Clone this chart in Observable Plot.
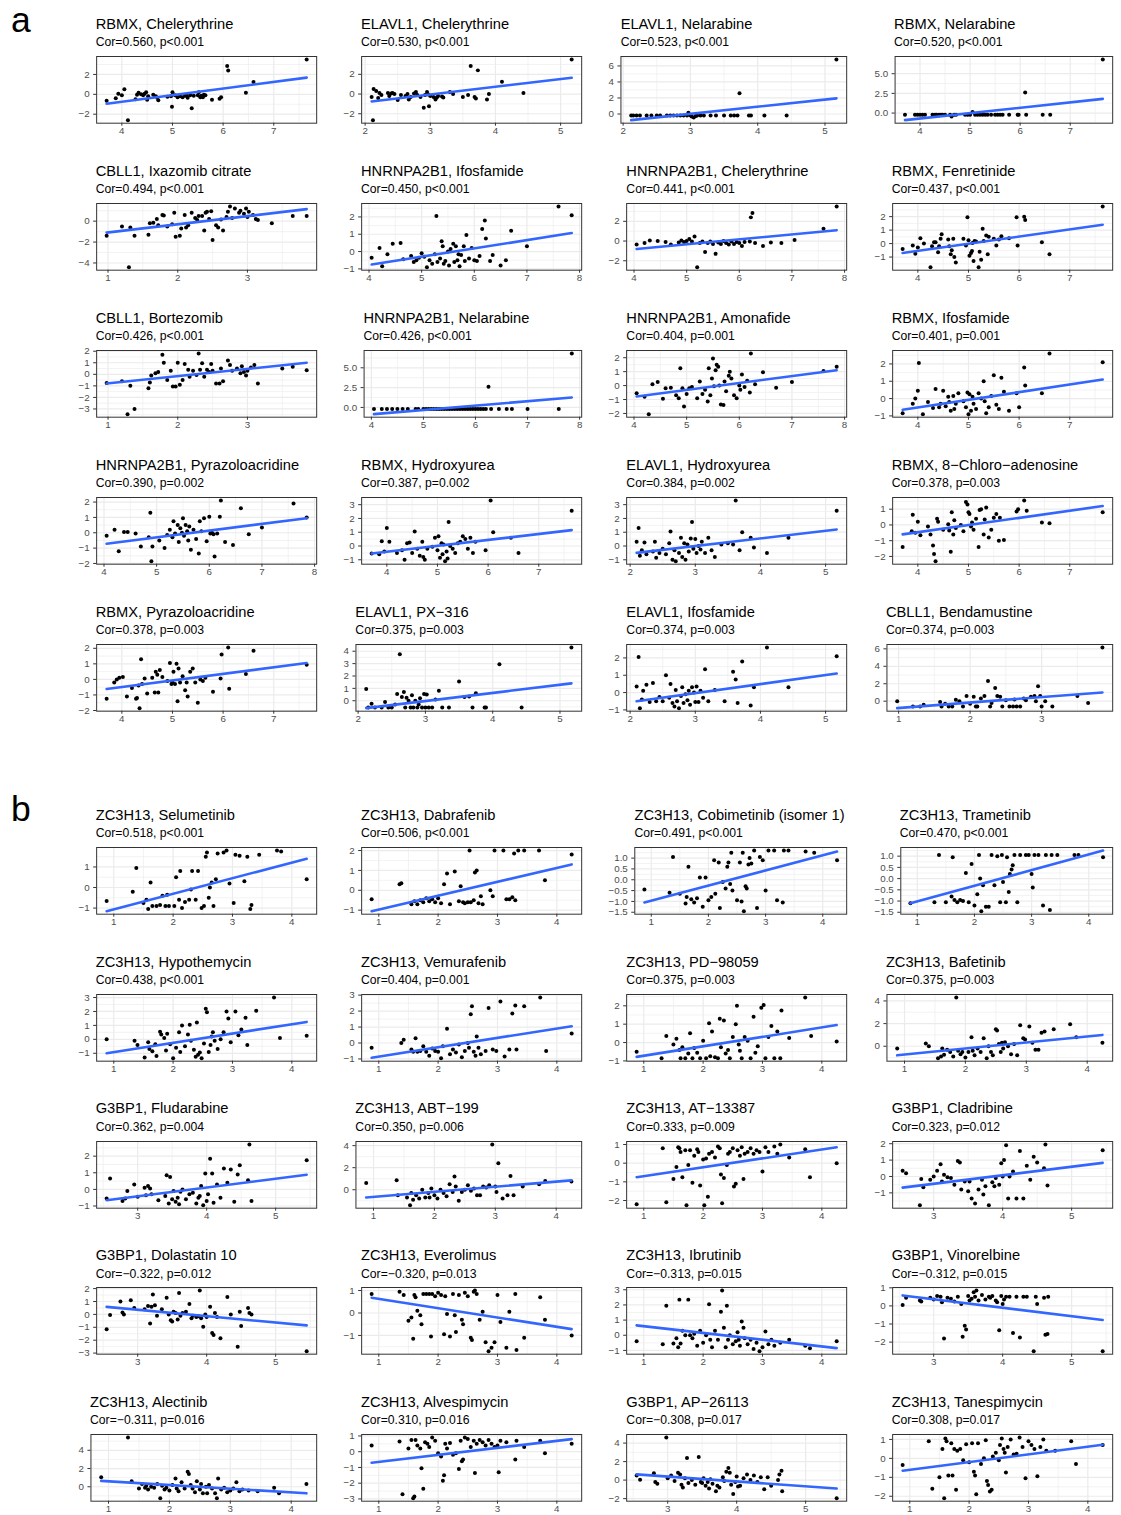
<!DOCTYPE html>
<html><head><meta charset="utf-8">
<script src="https://cdn.jsdelivr.net/npm/d3@7"></script>
<script src="https://cdn.jsdelivr.net/npm/@observablehq/plot@0.6"></script>
<style>
body{margin:0;background:#fff;}
#root{position:relative;width:1121px;height:1515px;overflow:hidden;background:#fff;font-family:"Liberation Sans",Arial,sans-serif;}
.t{position:absolute;white-space:nowrap;line-height:1;color:#000;}
svg.p{position:absolute;}
</style></head><body><div id="root"></div>
<script>
// ---------- DATA ----------
const sectionLabels = ["a", "b"];

const titles = [
 "RBMX, Chelerythrine","ELAVL1, Chelerythrine","ELAVL1, Nelarabine","RBMX, Nelarabine",
 "CBLL1, Ixazomib citrate","HNRNPA2B1, Ifosfamide","HNRNPA2B1, Chelerythrine","RBMX, Fenretinide",
 "CBLL1, Bortezomib","HNRNPA2B1, Nelarabine","HNRNPA2B1, Amonafide","RBMX, Ifosfamide",
 "HNRNPA2B1, Pyrazoloacridine","RBMX, Hydroxyurea","ELAVL1, Hydroxyurea","RBMX, 8\u2212Chloro\u2212adenosine",
 "RBMX, Pyrazoloacridine","ELAVL1, PX\u2212316","ELAVL1, Ifosfamide","CBLL1, Bendamustine",
 "ZC3H13, Selumetinib","ZC3H13, Dabrafenib","ZC3H13, Cobimetinib (isomer 1)","ZC3H13, Trametinib",
 "ZC3H13, Hypothemycin","ZC3H13, Vemurafenib","ZC3H13, PD\u221298059","ZC3H13, Bafetinib",
 "G3BP1, Fludarabine","ZC3H13, ABT\u2212199","ZC3H13, AT\u221213387","G3BP1, Cladribine",
 "G3BP1, Dolastatin 10","ZC3H13, Everolimus","ZC3H13, Ibrutinib","G3BP1, Vinorelbine",
 "ZC3H13, Alectinib","ZC3H13, Alvespimycin","G3BP1, AP\u221226113","ZC3H13, Tanespimycin"
];
const stats = [
 "Cor=0.560, p<0.001","Cor=0.530, p<0.001","Cor=0.523, p<0.001","Cor=0.520, p<0.001",
 "Cor=0.494, p<0.001","Cor=0.450, p<0.001","Cor=0.441, p<0.001","Cor=0.437, p<0.001",
 "Cor=0.426, p<0.001","Cor=0.426, p<0.001","Cor=0.404, p=0.001","Cor=0.401, p=0.001",
 "Cor=0.390, p=0.002","Cor=0.387, p=0.002","Cor=0.384, p=0.002","Cor=0.378, p=0.003",
 "Cor=0.378, p=0.003","Cor=0.375, p=0.003","Cor=0.374, p=0.003","Cor=0.374, p=0.003",
 "Cor=0.518, p<0.001","Cor=0.506, p<0.001","Cor=0.491, p<0.001","Cor=0.470, p<0.001",
 "Cor=0.438, p<0.001","Cor=0.404, p=0.001","Cor=0.375, p=0.003","Cor=0.375, p=0.003",
 "Cor=0.362, p=0.004","Cor=0.350, p=0.006","Cor=0.333, p=0.009","Cor=0.323, p=0.012",
 "Cor=\u22120.322, p=0.012","Cor=\u22120.320, p=0.013","Cor=\u22120.313, p=0.015","Cor=\u22120.312, p=0.015",
 "Cor=\u22120.311, p=0.016","Cor=0.310, p=0.016","Cor=\u22120.308, p=0.017","Cor=0.308, p=0.017"
];

const ticksRBMX = [4,5,6,7];
const ticksELAVL1 = [2,3,4,5];
const ticksCBLL1 = [1,2,3];
const ticksHNRNPA2B1 = [4,5,6,7,8];
const ticksZC3H13 = [1,2,3,4];
const ticksG3BP1 = [3,4,5];

const xTicks = [
 ticksRBMX,ticksELAVL1,ticksELAVL1,ticksRBMX,
 ticksCBLL1,ticksHNRNPA2B1,ticksHNRNPA2B1,ticksRBMX,
 ticksCBLL1,ticksHNRNPA2B1,ticksHNRNPA2B1,ticksRBMX,
 ticksHNRNPA2B1,ticksRBMX,ticksELAVL1,ticksRBMX,
 ticksRBMX,ticksELAVL1,ticksELAVL1,ticksCBLL1,
 ticksZC3H13,ticksZC3H13,ticksZC3H13,ticksZC3H13,
 ticksZC3H13,ticksZC3H13,ticksZC3H13,ticksZC3H13,
 ticksG3BP1,ticksZC3H13,ticksZC3H13,ticksG3BP1,
 ticksG3BP1,ticksZC3H13,ticksZC3H13,ticksG3BP1,
 ticksZC3H13,ticksZC3H13,ticksG3BP1,ticksZC3H13
];
const yTicks = [
 [-2,0,2],[-2,0,2],[0,2,4,6],[0,2.5,5],
 [-4,-2,0],[-1,0,1,2],[-2,0,2],[-1,0,1,2],
 [-3,-2,-1,0,1,2],[0,2.5,5],[-2,-1,0,1,2],[-1,0,1,2],
 [-2,-1,0,1,2],[-1,0,1,2,3],[-1,0,1,2,3],[-2,-1,0,1],
 [-2,-1,0,1,2],[0,1,2,3,4],[-1,0,1,2],[0,2,4,6],
 [-1,0,1],[-1,0,1,2],[-1.5,-1.0,-0.5,0.0,0.5,1.0],[-1.5,-1.0,-0.5,0.0,0.5,1.0],
 [-1,0,1,2,3],[-1,0,1,2,3],[-1,0,1,2],[0,2,4],
 [-1,0,1,2],[0,2,4],[-2,-1,0,1],[-1,0,1,2],
 [-3,-2,-1,0,1,2],[-1,0,1],[-1,0,1,2,3],[-2,-1,0,1],
 [0,2,4],[-3,-2,-1,0,1],[-2,0,2,4],[-2,-1,0,1]
];
// fitted line: y at smallest x, y at largest x
const fits = [
 [-0.95,1.68],[-0.75,1.65],[-0.77,1.95],[-0.9,1.8],
 [-1.1,1.15],[-0.75,1.07],[-0.8,1.1],[-0.7,1.4],
 [-0.8,1.0],[-0.85,1.25],[-0.78,1.1],[-0.65,1.1],
 [-0.72,0.95],[-0.55,1.15],[-0.5,1.2],[-0.6,1.2],
 [-0.62,1.05],[-0.6,1.4],[-0.5,1.1],[-0.8,1.0],
 [-1.15,1.4],[-1.05,1.3],[-1.05,1.3],[-1.1,1.25],
 [-1.0,1.25],[-0.92,1.05],[-0.78,0.95],[-0.8,1.0],
 [-0.65,0.88],[-0.7,0.85],[-0.75,0.85],[-0.68,0.83],
 [0.58,-0.85],[0.68,-0.72],[0.65,-0.85],[0.58,-0.78],
 [0.65,-0.72],[-0.7,0.8],[0.62,-0.9],[-0.65,0.72]
];

const p01 = [[3.7,-0.65],[3.88,-0.4],[3.93,0.05],[4.0,-0.1],[4.05,0.5],[4.12,-2.6],[4.27,-0.5],[4.3,-0.05],[4.33,0.15],[4.38,0.0],[4.42,-0.1],[4.45,0.05],[4.48,0.2],[4.5,-0.55],[4.52,-0.2],[4.62,-0.05],[4.67,-0.2],[4.72,-0.6],[4.7,-0.35],[4.9,-0.25],[4.97,-0.2],[4.99,-1.25],[5.0,0.2],[5.05,-0.1],[5.1,-0.3],[5.15,-0.2],[5.2,-0.3],[5.25,-0.15],[5.28,-0.1],[5.3,-0.35],[5.35,-0.1],[5.38,-1.4],[5.42,-0.15],[5.5,-0.1],[5.52,0.2],[5.55,-0.3],[5.57,-0.15],[5.6,-0.3],[5.62,-0.05],[5.65,-0.1],[5.78,-0.55],[5.93,-0.45],[5.96,-0.3],[6.08,2.85],[6.1,2.4],[6.45,0.15],[6.6,1.25],[7.65,3.5]];
const p02 = [[2.1,-0.3],[2.13,0.5],[2.12,-2.65],[2.17,0.3],[2.2,-0.4],[2.22,0.1],[2.25,-0.1],[2.35,0.1],[2.37,-0.2],[2.4,0.05],[2.42,0.1],[2.45,0.0],[2.5,-0.6],[2.55,-0.1],[2.62,-0.2],[2.65,0.0],[2.67,-0.55],[2.7,-0.3],[2.75,0.05],[2.78,0.2],[2.8,-0.1],[2.85,-0.3],[2.9,-1.4],[2.92,-0.1],[2.95,0.2],[2.97,-0.05],[2.98,-1.25],[3.0,-0.2],[3.05,-0.3],[3.08,-0.55],[3.1,-0.35],[3.12,-0.2],[3.18,-0.25],[3.2,-0.35],[3.3,0.2],[3.35,0.0],[3.5,-0.3],[3.58,-0.1],[3.62,2.85],[3.68,-0.3],[3.7,-0.45],[3.73,2.4],[3.87,-0.55],[3.9,0.0],[4.1,1.25],[4.43,0.1],[5.17,3.5]];
const p03 = [[2.12,-0.2],[2.15,-0.2],[2.2,-0.2],[2.25,-0.2],[2.35,-0.2],[2.42,-0.2],[2.5,-0.2],[2.55,-0.2],[2.65,-0.2],[2.7,-0.2],[2.75,-0.2],[2.8,-0.2],[2.85,-0.2],[2.9,-0.2],[2.95,-0.2],[2.97,0.15],[3.0,-0.2],[3.02,-0.3],[3.05,-0.45],[3.08,-0.25],[3.1,-0.2],[3.15,-0.2],[3.2,-0.2],[3.3,-0.2],[3.38,-0.2],[3.5,-0.2],[3.6,-0.2],[3.65,-0.2],[3.7,-0.2],[3.73,2.6],[3.87,-0.2],[3.9,-0.2],[4.1,-0.2],[4.43,-0.2],[5.17,6.8]];
const p04 = [[3.7,-0.2],[3.9,-0.2],[3.95,-0.2],[4.0,-0.2],[4.05,-0.2],[4.1,-0.2],[4.25,-0.2],[4.3,-0.2],[4.33,-0.2],[4.38,-0.2],[4.42,-0.2],[4.45,-0.2],[4.5,-0.2],[4.6,-0.2],[4.63,-0.45],[4.68,-0.2],[4.72,-0.2],[4.9,-0.2],[4.95,-0.2],[5.0,-0.2],[5.05,0.15],[5.1,-0.2],[5.15,-0.2],[5.2,-0.2],[5.25,-0.2],[5.3,-0.2],[5.35,-0.2],[5.42,-0.2],[5.5,-0.2],[5.55,-0.2],[5.6,-0.2],[5.65,-0.2],[5.78,-0.2],[5.95,-0.2],[5.97,-0.2],[6.1,2.6],[6.12,-0.2],[6.45,-0.2],[6.6,-0.2],[7.65,6.8]];
const p05 = [[0.98,-1.4],[1.2,-0.5],[1.3,-4.4],[1.32,-0.6],[1.38,-1.4],[1.58,-1.3],[1.6,-0.2],[1.65,-0.15],[1.7,0.2],[1.72,-0.4],[1.78,0.6],[1.8,0.55],[1.85,-0.5],[1.92,-0.3],[1.95,0.8],[1.97,-1.5],[2.03,-1.4],[2.05,-0.7],[2.1,0.6],[2.12,-0.6],[2.15,-0.4],[2.2,0.8],[2.25,0.3],[2.28,0.1],[2.3,0.5],[2.35,0.5],[2.38,-0.9],[2.4,0.8],[2.42,0.9],[2.45,0.2],[2.48,0.95],[2.5,-1.8],[2.55,-0.4],[2.58,-0.6],[2.62,0.15],[2.65,-0.9],[2.7,0.4],[2.72,0.9],[2.75,1.4],[2.78,0.3],[2.82,1.2],[2.88,0.8],[2.9,1.0],[2.95,0.7],[2.98,1.2],[3.0,0.4],[3.02,0.9],[3.08,0.6],[3.12,0.2],[3.15,0.1],[3.35,-0.2],[3.65,0.5],[3.85,0.5]];
const p06 = [[4.05,-0.35],[4.2,0.2],[4.25,-0.85],[4.35,-0.15],[4.45,0.45],[4.6,0.5],[4.65,-0.45],[4.8,-0.25],[4.85,-0.6],[4.9,-0.5],[4.95,-0.35],[5.0,-0.1],[5.05,-0.3],[5.1,-0.9],[5.15,-0.5],[5.2,-0.7],[5.25,-0.15],[5.28,2.05],[5.3,-0.6],[5.35,-0.4],[5.38,0.6],[5.4,0.3],[5.42,-0.7],[5.45,-0.55],[5.5,0.0],[5.52,-0.8],[5.55,0.15],[5.6,0.45],[5.62,-0.6],[5.65,0.3],[5.68,-0.5],[5.7,-0.15],[5.72,-0.85],[5.75,-0.2],[5.8,0.3],[5.82,-0.55],[5.85,0.95],[5.9,-0.4],[5.95,0.2],[6.0,-0.5],[6.05,-0.55],[6.1,-0.25],[6.15,1.3],[6.2,1.8],[6.22,0.75],[6.3,-0.55],[6.35,-0.2],[6.5,-0.8],[6.6,-0.5],[6.7,1.2],[7.0,0.3],[7.6,2.6],[7.85,2.1]];
const p07 = [[4.05,-0.35],[4.2,-0.2],[4.3,0.05],[4.45,0.0],[4.6,-0.1],[4.7,-0.35],[4.85,-0.15],[4.9,0.05],[4.95,-0.1],[5.0,0.0],[5.05,0.2],[5.1,-0.05],[5.15,0.45],[5.2,-2.65],[5.25,-0.2],[5.3,-0.05],[5.35,-1.1],[5.4,-0.2],[5.45,-0.05],[5.5,-0.3],[5.55,-1.3],[5.6,-0.15],[5.65,-0.3],[5.7,0.0],[5.75,-0.2],[5.8,-0.35],[5.85,-0.05],[5.9,-0.3],[5.95,-0.1],[6.0,-0.2],[6.05,-0.5],[6.1,-0.1],[6.2,-0.05],[6.22,2.4],[6.25,2.85],[6.3,-0.2],[6.45,-0.5],[6.6,-0.15],[6.8,-0.2],[7.05,0.1],[7.6,1.25],[7.85,3.5]];
const p08 = [[3.7,-0.4],[3.9,-0.15],[3.95,-0.75],[4.0,-0.3],[4.05,0.4],[4.12,0.0],[4.25,-1.75],[4.28,-0.2],[4.32,0.1],[4.35,0.1],[4.4,-0.65],[4.42,-0.2],[4.45,0.35],[4.47,0.7],[4.6,0.3],[4.62,-0.2],[4.65,-0.8],[4.67,-0.5],[4.7,0.35],[4.72,-1.0],[4.75,-1.4],[4.9,0.35],[4.95,-0.15],[4.98,1.95],[5.0,0.25],[5.02,-0.9],[5.05,-0.7],[5.07,-0.55],[5.08,0.05],[5.1,-1.3],[5.12,0.2],[5.15,0.15],[5.2,-1.75],[5.22,-0.6],[5.25,-1.2],[5.28,1.1],[5.3,0.2],[5.35,0.6],[5.38,-0.8],[5.4,0.5],[5.5,0.35],[5.55,-0.15],[5.6,0.3],[5.65,0.55],[5.8,0.4],[5.95,1.95],[5.97,-0.15],[6.1,2.0],[6.12,1.75],[6.45,0.1],[6.6,-0.8],[7.65,2.75]];
const p09 = [[0.98,-0.75],[1.2,-0.6],[1.28,-3.45],[1.32,-1.0],[1.38,-3.0],[1.58,-1.2],[1.6,-0.7],[1.62,-0.1],[1.68,0.1],[1.72,0.2],[1.78,1.7],[1.8,1.0],[1.85,-0.5],[1.9,0.3],[1.93,-1.05],[1.97,-1.05],[2.0,1.0],[2.03,-0.9],[2.07,-0.5],[2.1,0.9],[2.15,0.4],[2.17,-0.2],[2.22,0.3],[2.27,-0.05],[2.3,1.8],[2.32,0.4],[2.35,0.95],[2.38,-0.2],[2.42,0.4],[2.45,0.2],[2.48,0.9],[2.5,0.3],[2.55,-0.8],[2.6,-0.8],[2.62,0.5],[2.65,-0.6],[2.72,1.2],[2.75,0.8],[2.78,0.3],[2.85,0.5],[2.9,0.1],[2.92,0.7],[2.95,0.2],[2.98,-0.1],[3.0,0.3],[3.05,0.6],[3.1,0.8],[3.15,-0.8],[3.5,0.5],[3.65,0.65],[3.85,0.35]];
const p10 = [[4.05,-0.2],[4.2,-0.2],[4.3,-0.2],[4.4,-0.2],[4.5,-0.2],[4.6,-0.2],[4.7,-0.2],[4.85,-0.2],[4.9,-0.2],[5.0,-0.2],[5.05,-0.2],[5.1,-0.2],[5.15,-0.2],[5.2,-0.2],[5.25,-0.2],[5.3,-0.2],[5.35,-0.2],[5.4,-0.2],[5.45,-0.2],[5.5,-0.2],[5.55,-0.2],[5.6,-0.2],[5.65,-0.2],[5.7,-0.2],[5.75,-0.2],[5.8,-0.2],[5.85,-0.2],[5.9,-0.2],[5.95,-0.2],[6.0,-0.2],[6.05,-0.2],[6.1,-0.2],[6.15,-0.2],[6.2,-0.2],[6.25,2.6],[6.3,-0.2],[6.45,-0.2],[6.6,-0.2],[6.7,-0.2],[7.0,-0.2],[7.6,-0.2],[7.85,6.8]];
const p11 = [[4.05,-0.55],[4.2,-0.8],[4.28,-2.05],[4.35,0.1],[4.45,0.25],[4.55,-0.95],[4.6,-0.2],[4.7,-0.15],[4.8,-0.7],[4.85,-0.9],[4.88,1.25],[4.92,-0.2],[4.95,-1.5],[5.0,-0.6],[5.05,-0.2],[5.1,-0.1],[5.2,-0.9],[5.25,0.3],[5.3,-0.6],[5.35,-0.3],[5.4,-1.15],[5.42,1.25],[5.45,-0.7],[5.48,0.5],[5.5,1.95],[5.52,-0.05],[5.55,1.1],[5.57,1.5],[5.6,1.35],[5.62,0.0],[5.65,-1.35],[5.7,-1.4],[5.72,0.3],[5.75,-0.4],[5.8,0.7],[5.82,1.0],[5.85,0.5],[5.9,-0.7],[5.95,-0.9],[6.0,0.0],[6.02,-0.3],[6.05,0.8],[6.1,-0.1],[6.15,0.35],[6.2,-0.5],[6.22,2.3],[6.3,0.1],[6.45,0.95],[6.7,-0.15],[7.0,0.25],[7.6,1.05],[7.85,1.35]];
const p12 = [[3.7,-0.85],[3.9,-0.3],[3.95,0.0],[4.0,0.45],[4.02,2.05],[4.1,-0.9],[4.2,-0.2],[4.3,-0.55],[4.35,0.55],[4.42,-0.5],[4.45,-0.3],[4.5,0.45],[4.55,-0.45],[4.6,0.1],[4.62,-0.2],[4.65,-0.7],[4.7,0.15],[4.72,-0.6],[4.75,-0.3],[4.8,0.3],[4.9,-0.15],[4.95,-0.5],[4.98,0.35],[5.0,-0.9],[5.02,0.25],[5.05,-0.7],[5.08,0.1],[5.1,-0.3],[5.15,-0.6],[5.2,0.3],[5.25,0.0],[5.3,1.0],[5.32,-0.15],[5.35,-0.85],[5.4,-0.5],[5.45,0.15],[5.5,1.35],[5.55,-0.35],[5.6,-0.6],[5.65,1.2],[5.7,0.4],[5.8,-0.7],[5.95,0.3],[6.0,-0.5],[6.1,1.8],[6.12,0.75],[6.45,0.3],[6.6,2.6],[7.65,2.1]];
const p13 = [[4.05,-0.2],[4.2,0.2],[4.28,-1.2],[4.38,0.05],[4.45,0.05],[4.6,-0.05],[4.7,-0.9],[4.85,-0.3],[4.88,1.3],[4.9,-1.85],[4.92,-0.9],[5.05,-0.5],[5.15,-1.0],[5.2,-0.15],[5.25,0.2],[5.3,-0.3],[5.32,0.75],[5.35,-0.05],[5.4,0.5],[5.42,-0.6],[5.45,0.3],[5.48,0.0],[5.5,0.95],[5.52,-0.2],[5.55,0.5],[5.58,0.1],[5.6,-0.5],[5.62,0.4],[5.65,-1.1],[5.7,0.2],[5.75,-0.4],[5.8,-1.35],[5.82,0.75],[5.85,0.1],[5.9,0.95],[5.95,-0.55],[6.0,1.05],[6.02,-0.05],[6.05,0.0],[6.08,-0.1],[6.1,-1.55],[6.15,-0.05],[6.2,1.05],[6.22,2.1],[6.3,-0.6],[6.45,-0.8],[6.6,1.6],[6.75,-0.1],[7.0,0.35],[7.6,1.9],[7.85,1.0]];
const p14 = [[3.7,-0.55],[3.85,-0.6],[3.9,0.35],[3.95,-0.4],[4.0,1.3],[4.05,0.3],[4.2,-0.5],[4.3,-0.3],[4.35,-1.0],[4.4,0.2],[4.45,0.25],[4.5,-0.5],[4.55,1.05],[4.6,-0.2],[4.65,-0.7],[4.7,0.3],[4.72,-0.8],[4.75,-1.0],[4.8,-0.2],[4.9,-0.05],[4.95,0.6],[5.0,-0.3],[5.02,0.7],[5.05,-0.85],[5.08,0.2],[5.1,-0.6],[5.12,0.1],[5.15,-1.1],[5.18,-0.4],[5.2,-0.9],[5.22,1.75],[5.25,0.0],[5.3,-0.2],[5.35,-0.5],[5.4,0.2],[5.45,0.3],[5.5,0.7],[5.55,0.5],[5.6,-0.2],[5.65,0.6],[5.7,-0.5],[5.75,0.3],[5.95,-0.3],[6.05,3.3],[6.1,1.0],[6.45,0.6],[6.6,-0.5],[7.65,2.55]];
const p15 = [[2.1,0.3],[2.13,1.3],[2.15,-0.7],[2.18,-0.3],[2.22,0.25],[2.25,-0.6],[2.35,-0.4],[2.38,0.3],[2.4,-0.85],[2.45,-0.5],[2.5,-0.2],[2.55,-0.6],[2.6,0.2],[2.62,1.05],[2.65,-1.0],[2.68,-0.3],[2.7,-1.1],[2.75,-0.5],[2.78,0.6],[2.8,-0.8],[2.83,0.2],[2.85,-1.0],[2.88,0.1],[2.9,-0.4],[2.93,0.55],[2.95,1.75],[2.97,-0.2],[3.0,0.5],[3.02,-0.5],[3.05,0.0],[3.08,-0.25],[3.1,0.3],[3.15,-0.5],[3.2,0.6],[3.25,-0.3],[3.3,-0.8],[3.4,0.1],[3.5,0.2],[3.58,0.1],[3.62,3.3],[3.68,-0.3],[3.72,1.0],[3.85,0.6],[3.9,-0.1],[4.1,-0.5],[4.43,0.6],[5.17,2.55]];
const p16 = [[3.7,-1.4],[3.88,-0.4],[3.9,0.65],[3.95,-0.5],[4.0,0.2],[4.05,-0.65],[4.2,-0.1],[4.25,-0.6],[4.3,-1.3],[4.32,-1.85],[4.35,-2.3],[4.38,0.4],[4.4,0.2],[4.5,-0.3],[4.6,0.05],[4.62,-0.35],[4.65,-1.7],[4.67,0.8],[4.7,-0.6],[4.72,0.3],[4.75,-0.2],[4.85,0.0],[4.9,-0.4],[4.95,1.45],[4.98,1.3],[5.0,0.8],[5.02,0.7],[5.05,-0.1],[5.07,0.15],[5.1,-0.3],[5.15,0.4],[5.2,-1.4],[5.22,0.95],[5.25,1.0],[5.3,-0.6],[5.32,0.35],[5.35,1.1],[5.4,-0.8],[5.45,-0.3],[5.5,0.45],[5.55,0.7],[5.6,-1.0],[5.62,0.45],[5.7,-0.95],[5.95,0.85],[5.98,1.0],[6.1,1.55],[6.15,0.9],[6.45,0.15],[6.6,0.1],[7.65,0.8]];
const p17 = [[3.7,-1.25],[3.85,-0.2],[3.9,0.0],[3.95,0.1],[4.02,0.15],[4.1,-1.1],[4.2,-0.55],[4.28,-1.25],[4.3,-1.2],[4.33,-0.4],[4.35,-1.85],[4.38,1.3],[4.4,-0.3],[4.45,0.05],[4.5,-0.9],[4.6,0.1],[4.65,-0.85],[4.67,0.5],[4.7,0.3],[4.72,-0.85],[4.75,0.6],[4.8,0.15],[4.9,-0.1],[4.95,1.05],[4.98,-0.3],[5.0,-0.2],[5.02,0.5],[5.05,-0.3],[5.08,1.0],[5.1,-1.4],[5.12,0.7],[5.15,-0.2],[5.2,0.2],[5.25,-0.7],[5.28,-0.2],[5.3,-1.1],[5.35,0.5],[5.4,0.7],[5.45,-0.2],[5.5,-1.5],[5.55,0.0],[5.6,-0.1],[5.65,0.1],[5.8,-0.8],[5.95,0.05],[5.97,1.6],[6.1,2.05],[6.12,-0.6],[6.45,0.35],[6.6,1.85],[7.65,0.95]];
const p18 = [[2.12,0.95],[2.15,-0.55],[2.2,-0.25],[2.25,-0.55],[2.35,-0.55],[2.4,-0.1],[2.45,-0.55],[2.5,-0.55],[2.55,-0.3],[2.58,0.55],[2.62,3.75],[2.65,0.3],[2.68,0.7],[2.7,-0.55],[2.72,0.25],[2.75,0.0],[2.78,-0.55],[2.8,0.45],[2.82,-0.55],[2.85,0.0],[2.88,-0.55],[2.9,-0.3],[2.92,0.2],[2.95,-0.55],[2.98,0.55],[3.0,-0.55],[3.02,0.5],[3.05,-0.55],[3.1,-0.55],[3.15,0.1],[3.2,0.8],[3.25,-0.55],[3.35,-0.55],[3.5,1.55],[3.58,0.3],[3.65,0.35],[3.7,-0.55],[3.75,0.6],[3.88,-0.55],[3.9,-0.55],[4.1,2.95],[4.43,-0.55],[5.17,4.3]];
const p19 = [[2.1,0.35],[2.13,2.05],[2.15,-0.9],[2.18,-0.4],[2.2,0.1],[2.25,0.45],[2.3,-0.55],[2.35,0.55],[2.4,-0.5],[2.45,-0.25],[2.5,-0.5],[2.55,1.0],[2.6,-0.3],[2.62,0.5],[2.65,-0.6],[2.68,-0.8],[2.7,0.15],[2.72,-0.5],[2.75,-0.9],[2.78,-0.2],[2.8,0.3],[2.82,-0.6],[2.85,-0.1],[2.88,-0.45],[2.9,0.1],[2.92,-0.7],[2.95,0.3],[2.98,0.0],[3.0,-0.55],[3.02,0.35],[3.05,-0.55],[3.08,0.1],[3.12,-0.3],[3.15,1.35],[3.2,-0.5],[3.3,0.15],[3.45,-0.5],[3.58,1.2],[3.62,0.75],[3.65,-0.6],[3.72,1.8],[3.85,-0.75],[3.9,0.3],[4.1,2.6],[4.43,0.3],[5.17,2.1]];
const p20 = [[0.98,0.0],[1.2,-0.6],[1.3,-0.6],[1.35,-0.4],[1.58,-0.1],[1.6,-0.6],[1.65,-0.3],[1.7,-0.6],[1.75,-0.6],[1.8,0.15],[1.85,0.0],[1.9,-0.6],[1.95,0.6],[2.0,-0.3],[2.05,0.5],[2.08,-0.6],[2.1,-0.6],[2.15,0.3],[2.2,0.6],[2.25,2.3],[2.28,-0.6],[2.3,-0.2],[2.35,1.5],[2.38,0.6],[2.42,0.5],[2.45,-0.6],[2.5,0.1],[2.55,-0.6],[2.6,-0.6],[2.62,0.2],[2.65,-0.6],[2.7,-0.6],[2.75,0.3],[2.78,0.1],[2.85,0.5],[2.9,0.6],[2.92,0.0],[2.95,1.7],[2.98,0.6],[3.0,-0.6],[3.05,0.0],[3.15,-0.6],[3.5,0.6],[3.65,-0.2],[3.85,6.15]];
const p21 = [[0.88,-0.65],[1.32,-0.2],[1.38,0.95],[1.5,-0.75],[1.55,-0.6],[1.58,-1.05],[1.62,0.25],[1.65,-0.9],[1.72,-0.9],[1.78,-0.85],[1.82,-0.4],[1.87,-0.9],[1.9,-0.35],[1.93,-0.9],[2.02,-0.9],[2.05,0.5],[2.1,-0.6],[2.12,0.8],[2.15,-1.0],[2.2,-0.7],[2.27,-0.6],[2.3,-0.1],[2.32,0.8],[2.38,-0.6],[2.42,0.8],[2.48,-1.0],[2.52,-0.9],[2.55,1.5],[2.57,1.7],[2.6,-0.5],[2.62,0.0],[2.65,0.25],[2.68,-0.9],[2.72,0.4],[2.75,1.65],[2.85,1.7],[2.9,1.8],[2.95,0.2],[3.02,-0.75],[3.05,1.6],[3.12,1.55],[3.2,0.3],[3.25,1.5],[3.3,-1.05],[3.32,-0.85],[3.45,1.6],[3.75,1.8],[3.82,1.75],[4.25,0.4]];
const p22 = [[0.88,-0.45],[1.35,0.3],[1.38,0.35],[1.55,-0.7],[1.6,-0.55],[1.65,-0.7],[1.7,-0.5],[1.75,-0.6],[1.8,-0.4],[1.85,-0.55],[1.9,-0.45],[1.95,-0.6],[2.0,-0.4],[2.05,-0.65],[2.1,0.3],[2.15,0.85],[2.2,-0.7],[2.28,0.95],[2.35,-0.55],[2.38,0.2],[2.42,-0.6],[2.45,-0.65],[2.5,-0.6],[2.53,2.0],[2.55,-0.6],[2.6,-0.5],[2.62,0.9],[2.65,1.0],[2.68,-0.65],[2.72,-0.3],[2.75,-0.7],[2.88,0.0],[2.92,-0.3],[2.95,2.0],[3.1,2.0],[3.15,-0.45],[3.2,-0.45],[3.25,-0.35],[3.28,1.85],[3.3,-0.5],[3.35,2.0],[3.45,2.0],[3.7,2.0],[3.8,0.5],[4.25,1.8]];
const p23 = [[0.88,-0.45],[1.32,-0.6],[1.38,1.05],[1.5,-0.65],[1.6,-1.1],[1.62,-0.8],[1.65,0.6],[1.7,-0.9],[1.75,-1.05],[1.8,-0.85],[1.85,0.1],[1.9,-1.25],[1.95,0.1],[2.0,-0.95],[2.05,-0.8],[2.1,0.9],[2.12,-0.65],[2.18,0.8],[2.2,-1.3],[2.25,-0.1],[2.3,-0.4],[2.33,0.6],[2.35,0.8],[2.38,-0.2],[2.4,1.25],[2.42,-0.5],[2.5,-0.95],[2.55,0.8],[2.58,-1.0],[2.6,1.25],[2.62,-1.45],[2.65,-0.3],[2.67,-0.4],[2.7,0.7],[2.72,1.0],[2.75,0.75],[2.8,1.35],[2.85,-1.3],[2.9,1.05],[2.95,0.9],[3.0,-0.5],[3.05,1.35],[3.15,1.35],[3.2,-0.95],[3.3,-1.05],[3.32,1.35],[3.4,1.35],[3.7,1.3],[3.85,1.25],[4.25,0.9]];
const p24 = [[0.88,-1.1],[1.3,-1.05],[1.38,1.05],[1.5,-1.05],[1.6,-0.8],[1.62,0.95],[1.65,-0.95],[1.7,-1.05],[1.75,-0.95],[1.8,-1.0],[1.85,0.25],[1.9,-1.05],[1.95,0.65],[2.0,-1.2],[2.05,-0.7],[2.08,1.05],[2.1,0.0],[2.12,-1.45],[2.15,-0.3],[2.2,-1.25],[2.25,-1.25],[2.3,1.05],[2.35,-0.3],[2.4,1.0],[2.45,-1.05],[2.48,1.05],[2.5,-0.15],[2.55,-1.05],[2.57,0.95],[2.6,-0.6],[2.62,0.2],[2.65,0.4],[2.67,0.6],[2.7,1.05],[2.75,-1.05],[2.8,1.05],[2.9,1.05],[2.95,1.05],[3.0,0.2],[3.02,-0.4],[3.05,1.05],[3.12,1.05],[3.2,-1.2],[3.25,1.05],[3.32,-1.4],[3.35,1.05],[3.45,1.05],[3.75,1.05],[3.82,1.05],[4.25,0.95]];
const p25 = [[0.88,0.0],[1.35,-0.1],[1.4,-0.4],[1.52,-1.3],[1.58,-0.2],[1.6,-0.7],[1.65,-0.85],[1.7,-0.35],[1.72,-1.2],[1.78,0.55],[1.8,0.35],[1.85,0.1],[1.88,-0.8],[1.9,0.4],[1.95,-0.35],[2.0,-1.35],[2.05,-0.6],[2.1,0.5],[2.12,-0.9],[2.15,1.0],[2.2,-0.5],[2.25,0.35],[2.28,1.05],[2.3,-0.1],[2.35,-0.75],[2.38,-1.25],[2.4,1.2],[2.42,-1.1],[2.45,-0.95],[2.48,-1.35],[2.52,-0.3],[2.55,2.2],[2.57,1.95],[2.6,-0.9],[2.63,-0.4],[2.65,0.2],[2.67,0.5],[2.7,-0.1],[2.75,-0.7],[2.8,0.0],[2.85,0.5],[2.9,2.0],[2.93,1.5],[2.97,-0.2],[3.05,2.0],[3.1,0.3],[3.15,0.7],[3.22,1.55],[3.25,-0.4],[3.4,2.05],[3.7,3.0],[3.8,0.1],[4.25,0.25]];
const p26 = [[0.88,-0.3],[1.38,0.0],[1.42,0.2],[1.55,-0.4],[1.58,-0.55],[1.62,0.3],[1.65,-0.55],[1.7,-0.5],[1.75,-0.2],[1.8,-0.55],[1.85,-0.8],[1.9,-0.35],[1.95,-0.5],[2.0,-0.55],[2.05,-0.95],[2.08,-0.2],[2.15,0.9],[2.2,-0.7],[2.25,-0.4],[2.3,-0.6],[2.35,-0.1],[2.4,-0.9],[2.45,-0.5],[2.5,0.0],[2.52,-0.3],[2.55,1.8],[2.57,2.3],[2.6,-0.55],[2.63,-0.8],[2.65,0.4],[2.68,-0.3],[2.72,-0.7],[2.8,-0.5],[2.85,2.2],[2.92,-0.4],[2.98,-0.5],[3.05,2.6],[3.12,-0.85],[3.2,-0.4],[3.25,1.85],[3.3,2.35],[3.32,-0.4],[3.45,2.3],[3.72,2.85],[3.82,-0.5],[4.25,0.6]];
const p27 = [[0.88,-0.5],[1.3,-0.85],[1.38,0.35],[1.5,-0.1],[1.55,0.2],[1.6,-0.4],[1.62,-0.85],[1.65,-0.25],[1.7,-0.85],[1.75,-0.6],[1.78,0.5],[1.82,-0.85],[1.85,-0.3],[1.9,-0.55],[1.95,-0.85],[2.0,0.1],[2.05,-0.85],[2.1,1.05],[2.12,-0.75],[2.15,0.6],[2.2,-0.8],[2.25,-0.85],[2.28,1.3],[2.3,-0.25],[2.35,1.2],[2.38,-0.6],[2.42,-0.4],[2.45,-0.85],[2.5,0.3],[2.55,1.0],[2.57,2.0],[2.6,-0.1],[2.62,-0.45],[2.65,-0.85],[2.7,0.3],[2.75,0.1],[2.8,-0.85],[2.85,1.4],[2.88,-0.55],[2.92,-0.2],[2.98,1.9],[3.02,2.05],[3.05,-0.85],[3.1,0.3],[3.15,0.9],[3.2,-0.85],[3.25,0.6],[3.3,-0.85],[3.32,1.75],[3.45,0.25],[3.72,2.45],[3.82,0.35],[4.25,0.05]];
const p28 = [[0.88,-0.2],[1.35,0.25],[1.4,0.0],[1.55,-1.05],[1.6,-0.9],[1.62,-0.2],[1.65,-0.75],[1.7,-0.3],[1.75,-0.5],[1.8,-0.9],[1.85,4.3],[1.88,-0.4],[1.92,-0.7],[1.95,-0.5],[2.0,-1.0],[2.05,-0.5],[2.1,0.8],[2.12,-0.4],[2.15,-0.8],[2.2,-0.2],[2.25,-0.5],[2.3,0.7],[2.35,-1.05],[2.38,0.0],[2.42,-0.5],[2.45,-0.8],[2.5,1.5],[2.52,1.4],[2.55,0.2],[2.58,-0.5],[2.6,0.3],[2.62,-0.2],[2.65,0.35],[2.7,0.0],[2.75,-0.7],[2.8,0.2],[2.85,-0.8],[2.9,1.85],[2.95,0.7],[2.98,0.6],[3.05,1.75],[3.1,0.3],[3.15,-0.3],[3.2,-0.3],[3.25,1.2],[3.3,1.3],[3.45,1.5],[3.72,1.95],[3.82,0.8],[4.25,0.3]];
const p29 = [[2.55,-0.55],[2.6,0.65],[2.78,-0.7],[2.82,-0.55],[2.85,-0.1],[2.95,0.3],[3.0,-0.45],[3.1,0.1],[3.12,-0.35],[3.15,0.2],[3.18,0.05],[3.2,-0.3],[3.3,-0.65],[3.4,-0.4],[3.42,0.85],[3.45,-0.85],[3.47,0.75],[3.5,-0.6],[3.52,-0.1],[3.55,-0.75],[3.58,-0.5],[3.6,-0.9],[3.62,-0.15],[3.65,0.0],[3.7,-0.6],[3.75,-0.3],[3.8,-0.2],[3.85,-0.85],[3.88,-0.5],[3.9,-0.4],[3.92,0.2],[3.95,-0.95],[3.98,0.95],[4.0,-0.7],[4.02,-0.3],[4.05,1.85],[4.08,0.95],[4.1,-0.8],[4.15,0.3],[4.2,-0.5],[4.25,1.25],[4.3,0.4],[4.35,1.2],[4.4,-0.75],[4.45,0.9],[4.48,1.45],[4.6,0.55],[4.62,2.7],[4.65,-0.7],[5.45,1.75]];
const p30 = [[0.88,0.6],[1.38,0.85],[1.4,-0.5],[1.55,-0.7],[1.6,-1.4],[1.62,-0.3],[1.65,-0.9],[1.7,-0.5],[1.75,-0.8],[1.8,0.0],[1.85,-0.7],[1.9,-0.3],[1.92,-0.7],[1.95,0.1],[2.0,-0.5],[2.05,-0.8],[2.1,0.0],[2.15,-0.3],[2.2,-0.6],[2.25,0.5],[2.3,-0.2],[2.33,1.2],[2.35,0.3],[2.4,-1.0],[2.45,-0.2],[2.5,0.0],[2.55,0.4],[2.6,-0.1],[2.65,0.1],[2.7,-0.5],[2.75,-0.5],[2.8,0.3],[2.85,0.2],[2.9,0.4],[2.95,4.1],[3.0,0.3],[3.02,-0.2],[3.05,2.4],[3.12,-0.8],[3.2,-0.5],[3.25,1.25],[3.3,-0.5],[3.45,0.3],[3.72,0.5],[3.82,0.8],[4.25,0.75]];
const p31 = [[0.88,-2.2],[1.32,0.8],[1.38,-2.1],[1.5,-0.85],[1.55,-0.2],[1.58,0.85],[1.6,0.8],[1.62,0.6],[1.65,-0.75],[1.7,0.7],[1.72,-2.25],[1.75,-0.1],[1.78,0.7],[1.82,-1.05],[1.85,0.4],[1.9,0.75],[1.92,0.6],[1.95,-1.2],[2.0,0.2],[2.02,-2.25],[2.05,0.25],[2.08,-1.8],[2.1,0.5],[2.15,0.6],[2.2,0.3],[2.25,0.9],[2.28,0.8],[2.3,-0.6],[2.32,-2.15],[2.35,-0.8],[2.4,-0.1],[2.42,0.5],[2.45,0.6],[2.5,0.8],[2.52,-1.25],[2.55,-1.1],[2.58,0.7],[2.62,0.4],[2.65,0.85],[2.68,-0.85],[2.7,0.5],[2.75,0.6],[2.8,0.8],[2.85,0.5],[2.9,0.7],[2.95,0.6],[3.0,-0.45],[3.05,0.85],[3.1,0.6],[3.2,0.9],[3.25,0.5],[3.3,1.0],[3.45,0.3],[3.72,0.75],[3.8,-0.75],[4.25,0.0]];
const p32 = [[2.55,0.35],[2.6,0.2],[2.8,-1.75],[2.82,-0.15],[2.85,-0.65],[2.95,-0.2],[3.0,0.0],[3.05,0.35],[3.1,0.75],[3.12,-0.3],[3.15,0.1],[3.2,-0.05],[3.25,-0.1],[3.3,-0.5],[3.35,0.95],[3.38,0.85],[3.4,-0.8],[3.45,-0.3],[3.5,-0.9],[3.52,-0.3],[3.55,-1.35],[3.6,-1.65],[3.65,-0.8],[3.7,-0.2],[3.72,-1.1],[3.75,-0.6],[3.8,-1.75],[3.85,-0.35],[3.88,-0.6],[3.9,-0.1],[3.95,-0.5],[3.98,0.8],[4.0,0.0],[4.02,1.0],[4.05,1.9],[4.08,-1.35],[4.1,0.0],[4.15,0.3],[4.2,-1.35],[4.25,1.55],[4.3,-1.35],[4.35,0.65],[4.4,-0.2],[4.45,1.2],[4.5,0.85],[4.6,0.5],[4.62,1.95],[4.65,-0.55],[5.45,1.6]];
const p33 = [[2.55,-1.15],[2.6,-0.05],[2.75,1.0],[2.78,0.15],[2.8,0.0],[2.9,1.1],[2.95,0.5],[3.1,0.4],[3.15,0.65],[3.18,-0.7],[3.2,0.6],[3.22,1.55],[3.25,0.7],[3.28,-0.1],[3.35,0.4],[3.42,1.3],[3.45,0.0],[3.48,-0.45],[3.5,-0.55],[3.52,0.2],[3.55,0.1],[3.58,-0.4],[3.6,1.65],[3.62,-0.1],[3.65,0.1],[3.7,0.2],[3.75,0.8],[3.78,-0.3],[3.8,-0.1],[3.85,-0.2],[3.88,-0.15],[3.9,1.85],[3.92,-0.3],[3.95,-0.95],[3.98,0.0],[4.0,-0.2],[4.05,0.6],[4.08,-1.45],[4.1,-1.6],[4.12,0.1],[4.15,-0.2],[4.2,-1.85],[4.3,1.35],[4.35,0.0],[4.45,-2.5],[4.48,0.2],[4.5,-0.9],[4.6,0.5],[4.62,0.1],[4.65,0.0],[5.45,-2.85]];
const p34 = [[0.88,0.85],[1.35,0.95],[1.42,0.8],[1.5,-0.35],[1.55,-0.2],[1.58,-1.15],[1.6,0.8],[1.62,0.7],[1.65,0.1],[1.7,-0.1],[1.72,-0.5],[1.75,0.85],[1.8,0.85],[1.85,0.85],[1.88,-1.05],[1.9,0.85],[1.95,0.75],[2.0,0.9],[2.05,0.8],[2.1,-0.95],[2.12,0.75],[2.15,-0.05],[2.2,-1.05],[2.25,0.85],[2.28,-0.1],[2.3,-0.85],[2.35,0.8],[2.4,-0.3],[2.42,-0.5],[2.45,0.9],[2.5,0.75],[2.55,-1.1],[2.57,-1.2],[2.6,0.95],[2.62,1.0],[2.65,0.85],[2.7,-0.3],[2.75,0.05],[2.8,-1.3],[2.85,-1.7],[2.9,-1.55],[2.95,-1.3],[3.0,0.8],[3.05,-0.4],[3.15,-1.55],[3.2,0.05],[3.3,0.85],[3.32,-1.65],[3.45,-1.1],[3.72,0.7],[3.8,-0.3],[4.25,-1.0]];
const p35 = [[0.88,-0.4],[1.32,-0.6],[1.38,1.95],[1.5,-0.55],[1.55,-0.2],[1.58,-0.8],[1.6,2.35],[1.62,-0.55],[1.65,0.3],[1.7,0.0],[1.75,2.35],[1.78,0.0],[1.82,-0.2],[1.85,0.1],[1.9,-0.7],[1.95,0.3],[2.0,-0.5],[2.05,0.0],[2.1,2.05],[2.12,-0.3],[2.15,-0.8],[2.2,0.3],[2.25,-0.3],[2.3,1.55],[2.32,2.95],[2.35,0.5],[2.38,-0.8],[2.4,1.95],[2.42,-0.3],[2.45,0.0],[2.5,-0.6],[2.55,-0.4],[2.58,0.2],[2.6,-0.3],[2.62,-0.7],[2.65,0.9],[2.68,0.5],[2.7,-0.2],[2.75,-0.6],[2.8,-0.3],[2.85,-0.9],[2.9,-0.5],[2.95,-1.05],[3.0,-0.8],[3.05,0.25],[3.1,-0.6],[3.15,-0.3],[3.2,-0.7],[3.3,-0.5],[3.45,-0.3],[3.72,-0.7],[3.8,-0.85],[4.25,-0.4]];
const p36 = [[2.55,0.05],[2.6,0.45],[2.8,0.3],[2.82,0.25],[2.95,0.45],[3.0,0.35],[3.05,0.55],[3.1,0.5],[3.12,0.2],[3.15,-1.8],[3.2,0.45],[3.25,0.4],[3.3,0.25],[3.35,0.5],[3.4,0.1],[3.42,-1.7],[3.45,-1.1],[3.47,-1.3],[3.5,0.55],[3.52,0.3],[3.55,0.4],[3.58,0.75],[3.6,0.5],[3.62,0.85],[3.65,0.3],[3.7,0.6],[3.75,0.35],[3.8,0.5],[3.82,0.45],[3.85,0.55],[3.9,0.3],[3.92,0.2],[3.95,-1.35],[3.98,0.55],[4.0,0.1],[4.02,0.35],[4.05,0.5],[4.1,0.5],[4.15,-1.5],[4.2,0.5],[4.25,-1.75],[4.3,0.5],[4.35,0.5],[4.45,-2.5],[4.48,0.5],[4.5,0.1],[4.6,0.45],[4.62,-1.6],[4.65,-1.55],[4.66,0.5],[5.45,-2.5]];
const p37 = [[0.88,1.05],[1.32,5.4],[1.38,0.6],[1.5,-0.2],[1.55,0.3],[1.6,-0.1],[1.62,0.1],[1.65,-0.3],[1.7,0.0],[1.75,-0.1],[1.8,0.3],[1.85,-1.25],[1.88,0.1],[1.92,-0.3],[1.95,-0.1],[2.0,-0.4],[2.05,0.2],[2.1,0.9],[2.12,-0.2],[2.15,-0.5],[2.2,0.5],[2.25,-0.2],[2.3,1.65],[2.32,1.4],[2.35,0.2],[2.38,-0.2],[2.42,-0.6],[2.45,0.6],[2.5,-0.3],[2.52,0.3],[2.55,-0.7],[2.6,0.0],[2.62,-0.7],[2.65,0.2],[2.7,-0.2],[2.75,-0.7],[2.78,-1.25],[2.8,0.9],[2.85,-0.3],[2.9,-0.1],[2.95,-0.6],[3.0,-0.4],[3.05,-0.2],[3.1,0.5],[3.15,-0.5],[3.2,-0.3],[3.3,-0.4],[3.45,-0.5],[3.72,-0.1],[3.8,-0.7],[4.25,0.3]];
const p38 = [[0.88,0.4],[1.35,0.65],[1.4,-2.7],[1.5,0.2],[1.55,0.75],[1.58,-2.95],[1.6,-2.85],[1.62,0.75],[1.65,0.4],[1.7,0.2],[1.72,-1.05],[1.75,-2.35],[1.78,0.6],[1.82,0.5],[1.85,0.3],[1.9,0.9],[1.95,0.7],[2.0,-0.1],[2.05,-0.3],[2.08,-1.85],[2.1,-1.5],[2.12,0.5],[2.15,0.2],[2.2,0.55],[2.25,-0.2],[2.3,-0.1],[2.35,-1.1],[2.38,0.7],[2.4,-0.6],[2.42,-0.5],[2.45,0.9],[2.5,0.8],[2.55,0.3],[2.6,0.7],[2.62,-1.35],[2.65,0.5],[2.7,0.75],[2.75,0.6],[2.8,0.4],[2.85,0.75],[2.9,0.5],[2.95,0.3],[3.0,0.4],[3.02,-1.3],[3.05,0.7],[3.15,0.6],[3.3,-0.5],[3.32,0.7],[3.45,0.3],[3.72,0.7],[3.8,-0.1],[4.25,0.5]];
const p39 = [[2.55,0.5],[2.6,0.05],[2.8,0.75],[2.82,-0.2],[2.85,-0.4],[2.98,4.6],[3.0,0.2],[3.05,0.5],[3.1,-0.1],[3.15,0.8],[3.18,0.6],[3.2,-0.5],[3.22,-0.8],[3.25,0.2],[3.28,2.4],[3.3,-0.3],[3.35,0.0],[3.4,-0.5],[3.45,2.5],[3.48,-0.2],[3.5,-0.3],[3.52,0.2],[3.55,-0.6],[3.58,-0.2],[3.6,-0.9],[3.62,0.1],[3.65,-0.4],[3.7,-1.2],[3.72,-0.6],[3.75,-0.8],[3.8,0.3],[3.82,-0.1],[3.85,0.9],[3.88,1.3],[3.9,0.8],[3.92,-0.5],[3.95,-1.5],[3.98,-0.2],[4.0,0.4],[4.02,-0.7],[4.05,-0.6],[4.1,0.2],[4.15,0.6],[4.2,0.0],[4.25,0.5],[4.3,-0.2],[4.35,0.3],[4.4,-1.0],[4.45,0.3],[4.5,-0.6],[4.6,0.0],[4.62,0.6],[4.65,1.0],[4.66,-1.2],[5.45,-1.95]];
const p40 = [[0.88,-0.35],[1.32,0.9],[1.38,-1.6],[1.5,-1.0],[1.55,0.5],[1.58,-2.1],[1.6,1.05],[1.62,0.9],[1.65,-0.9],[1.7,0.8],[1.72,-0.9],[1.75,0.5],[1.78,-1.65],[1.8,0.4],[1.85,0.5],[1.9,-0.1],[1.95,0.75],[2.0,-0.2],[2.05,0.8],[2.08,-0.7],[2.1,-0.9],[2.12,-1.9],[2.15,0.8],[2.2,-0.3],[2.25,0.0],[2.28,0.95],[2.3,-1.2],[2.32,-1.4],[2.35,-1.75],[2.38,-1.65],[2.4,0.1],[2.45,0.3],[2.5,-0.1],[2.52,0.7],[2.55,1.05],[2.58,0.5],[2.6,0.3],[2.62,-0.75],[2.65,0.6],[2.7,1.0],[2.75,0.2],[2.8,0.25],[2.85,1.1],[2.9,0.6],[2.95,-1.05],[3.0,0.9],[3.05,0.7],[3.1,0.5],[3.15,-0.95],[3.2,0.6],[3.25,1.0],[3.3,0.4],[3.45,0.4],[3.72,0.9],[3.8,-0.3],[4.25,0.7]];

const points = [p01,p02,p03,p04,p05,p06,p07,p08,p09,p10,p11,p12,p13,p14,p15,p16,p17,p18,p19,p20,
                p21,p22,p23,p24,p25,p26,p27,p28,p29,p30,p31,p32,p33,p34,p35,p36,p37,p38,p39,p40];

// ---------- RENDER ----------
const root = document.getElementById("root");
const FONT = '"Liberation Sans", Arial, sans-serif';
const AXSIZE = 9.77, TSIZE = 14.66, SSIZE = 12.2;
const ctx = document.createElement("canvas").getContext("2d");
ctx.font = `${AXSIZE}px "Liberation Sans"`;

// place a text div so that its baseline lands at `baseline`
function label(text, left, baseline, size) {
  const d = document.createElement("div");
  d.className = "t";
  d.textContent = text;
  d.style.left = left + "px";
  d.style.top = (baseline - 0.8465 * size) + "px";
  d.style.fontSize = size + "px";
  root.appendChild(d);
}
function decimals(ticks) {
  return d3.max(ticks, t => { const s = String(t); const i = s.indexOf("."); return i < 0 ? 0 : s.length - i - 1; });
}
function fmtFor(ticks) { const f = d3.format(`.${decimals(ticks)}f`); return t => f(t); }
function expand([a, b]) { const r = b - a; return [a - 0.05 * r, b + 0.05 * r]; }
function minors(ticks, dom) {
  const step = ticks.length > 1 ? ticks[1] - ticks[0] : 1;
  const out = [];
  for (let v = ticks[0] - step / 2; v <= dom[1] + 1e-9; v += step) if (v >= dom[0]) out.push(v);
  return out;
}

label(sectionLabels[0], 11, 33, 35.5);
label(sectionLabels[1], 11, 822, 35.5);

const PANEL_H = 66.7, MT = 2, MB = 16, MR = 4;
titles.forEach((title, i) => {
  const s = i < 20 ? 0 : 1, k = i % 20, r = Math.floor(k / 4), c = k % 4;
  const rowTop = s === 0 ? 147 * r : 791 + 146.75 * r;
  const cellLeft = 77.6 + 265.3 * c;
  const panelRight = 315.8 + 265.3 * c;
  const pts = points[i];
  const fit = fits[i];
  const xs = d3.extent(pts, d => d[0]);
  const ys = d3.extent([...pts.map(d => d[1]), ...fit]);
  const xDom = expand(xs), yDom = expand(ys);
  const xt = xTicks[i].filter(v => v >= xDom[0] && v <= xDom[1]);
  const yt = yTicks[i].filter(v => v >= yDom[0] && v <= yDom[1]);
  const xf = fmtFor(xTicks[i]), yf = fmtFor(yTicks[i]);
  const labW = d3.max(yt, v => ctx.measureText(yf(v)).width);
  const ml = labW + 7;
  const panelLeft = cellLeft + ml;
  const width = panelRight - cellLeft + MR;
  const line = [[xs[0], fit[0]], [xs[1], fit[1]]];

  label(title, panelLeft, rowTop + 29.3, TSIZE);
  label(stats[i], panelLeft, rowTop + 46.7, SSIZE);

  const svg = Plot.plot({
    width, height: PANEL_H + MT + MB,
    marginLeft: ml, marginRight: MR, marginTop: MT, marginBottom: MB,
    x: {domain: xDom, axis: null},
    y: {domain: yDom, axis: null},
    style: {fontFamily: FONT, fontSize: AXSIZE + "px", background: "transparent", overflow: "visible"},
    marks: [
      Plot.ruleX(minors(xTicks[i], xDom), {stroke: "#EBEBEB", strokeWidth: 0.6}),
      Plot.ruleY(minors(yTicks[i], yDom), {stroke: "#EBEBEB", strokeWidth: 0.6}),
      Plot.ruleX(xt, {stroke: "#EBEBEB", strokeWidth: 1.2}),
      Plot.ruleY(yt, {stroke: "#EBEBEB", strokeWidth: 1.2}),
      Plot.dot(pts, {x: d => d[0], y: d => d[1], r: 2, fill: "#000", stroke: "none"}),
      Plot.line(line, {x: d => d[0], y: d => d[1], stroke: "#3366FF", strokeWidth: 2.6}),
      Plot.frame({stroke: "#333333", strokeWidth: 1}),
      Plot.axisX(xt, {tickSize: 3, tickPadding: 0.5, stroke: "#333333", fill: "#4D4D4D", tickFormat: xf, label: null}),
      Plot.axisY(yt, {tickSize: 3, tickPadding: 4, stroke: "#333333", fill: "#4D4D4D", tickFormat: yf, label: null})
    ]
  });
  svg.classList.add("p");
  svg.style.left = cellLeft + "px";
  svg.style.top = (rowTop + 56 - MT) + "px";
  root.appendChild(svg);
});
</script></body></html>
